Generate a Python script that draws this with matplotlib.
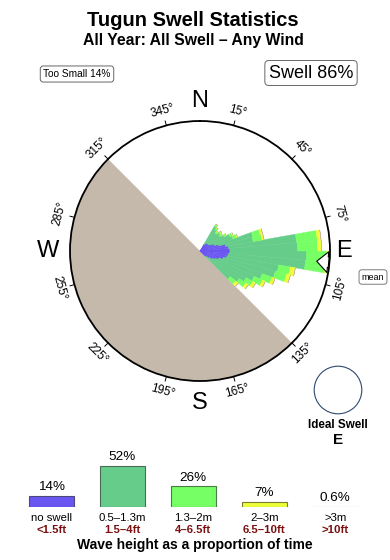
import numpy as np
import matplotlib.pyplot as plt
from matplotlib.patches import Circle

plt.rcParams['font.family'] = ['Liberation Sans', 'DejaVu Sans']

# rose data: 5 degree bins (start direction), radial units where the ring = 10
dirs = np.arange(30, 135, 5)
no_swell = [0.6, 0.7, 0.8, 0.8, 0.8, 0.9, 1.1, 1.2, 1.5, 2.0, 2.2,
            2.3, 2.3, 2.2, 2.1, 1.85, 1.55, 1.3, 1.1, 0.85, 0.6]
small = [1.6, 1.3, 1.0, 1.2, 1.1, 1.25, 1.45, 1.5, 2.7, 2.15, 5.25,
         5.2, 5.9, 5.95, 4.05, 4.15, 3.55, 3.3, 3.0, 2.85, 2.45]
medium = [0.15, 0.15, 0.15, 0.15, 0.15, 0.15, 0.2, 0.3, 0.6, 0.7, 1.6,
          1.55, 1.55, 1.55, 0.9, 0.9, 0.8, 0.7, 0.6, 0.6, 0.55]
large = [0.05, 0.05, 0.05, 0.05, 0.05, 0.05, 0.08, 0.08, 0.2, 0.15, 0.3,
         0.3, 0.3, 0.3, 0.4, 0.3, 0.25, 0.25, 0.25, 0.25, 0.25]
huge = [0, 0, 0, 0, 0, 0, 0, 0, 0, 0, 0,
        0, 0.08, 0.08, 0, 0, 0, 0, 0, 0, 0]
mean_dir = 95

# bottom legend
classes = ['no swell', '0.5–1.3m', '1.3–2m', '2–3m', '>3m']
feet = ['<1.5ft', '1.5–4ft', '4–6.5ft', '6.5–10ft', '>10ft']
pct = [14, 52, 26, 7, 0.6]
pct_labels = ['14%', '52%', '26%', '7%', '0.6%']

colors = ['#6a55f0', '#66cc8a', '#77ff66', '#eeff3a', '#c4a8a4']
edges = ['#4a4a7a', '#4a6a55', '#4a7a45', '#7a7a30', '#b09898']
land = '#c5b9ac'

fig = plt.figure(figsize=(3.9, 5.6), dpi=100)

fig.text(0.495, 1 - 20 / 560, 'Tugun Swell Statistics', ha='center', va='center',
         fontsize=14.5, fontweight='bold')
fig.text(0.497, 1 - 40 / 560, 'All Year: All Swell – Any Wind', ha='center', va='center',
         fontsize=11.3, fontweight='bold')
fig.text(77 / 390, 1 - 74 / 560, 'Too Small 14%', ha='center', va='center', fontsize=7.3,
         bbox=dict(boxstyle='round,pad=0.3', fc='white', ec='#666666', lw=0.7))
fig.text(311 / 390, 1 - 73 / 560, 'Swell 86%', ha='center', va='center', fontsize=13,
         bbox=dict(boxstyle='round,pad=0.22', fc='white', ec='#666666', lw=0.7))
fig.text(373 / 390, 1 - 277 / 560, 'mean', ha='center', va='center', fontsize=6.5,
         bbox=dict(boxstyle='round,pad=0.3', fc='white', ec='#666666', lw=0.6))

# rose
ax = fig.add_axes([70 / 390, 1 - 381 / 560, 260 / 390, 260 / 560], projection='polar')
ax.set_theta_zero_location('N')
ax.set_theta_direction(-1)
ax.set_ylim(0, 10)
ax.set_xticks([])
ax.set_yticks([])
ax.grid(False)
ax.spines['polar'].set_linewidth(1.3)

ax.bar(np.radians(225), 10, width=np.pi, color=land, linewidth=0, zorder=1)

theta = np.radians(dirs + 2.5)
w = np.radians(5)
bottom = np.zeros(len(dirs))
for vals, c in zip([no_swell, small, medium, large, huge], colors):
    vals = np.array(vals)
    ax.bar(theta, vals, width=w, bottom=bottom, color=c, edgecolor=c, linewidth=0.3, zorder=2)
    bottom += vals

ax.annotate('', xy=(np.radians(mean_dir), 8.8), xytext=(np.radians(mean_dir), 10.15),
            arrowprops=dict(arrowstyle='simple,head_length=0.8,head_width=1.5,tail_width=0.75',
                            fc='white', ec='black', lw=0.8), zorder=5,
            annotation_clip=False)

for d in range(15, 360, 30):
    rot = -d if (d < 90 or d > 270) else 180 - d
    ax.plot([np.radians(d)] * 2, [10, 10.35], color='black', lw=0.7, clip_on=False)
    ax.text(np.radians(d), 11.15, f'{d}°', rotation=rot, rotation_mode='anchor',
            ha='center', va='center', fontsize=8.5)

for lab, d, r in [('N', 0, 11.55), ('E', 90, 11.05), ('S', 180, 11.7), ('W', 270, 11.7)]:
    ax.text(np.radians(d), r, lab, ha='center', va='center', fontsize=17)

# ideal swell glyph
iax = fig.add_axes([313 / 390, 1 - 415 / 560, 50 / 390, 50 / 560])
iax.set_xlim(-1.05, 1.05)
iax.set_ylim(-1.05, 1.05)
iax.set_aspect('equal')
iax.axis('off')
iax.add_patch(Circle((0, 0), 1, fc='white', ec='#2e4a6e', lw=0.8))
fig.text(338 / 390, 1 - 425 / 560, 'Ideal Swell', ha='center', va='center',
         fontsize=8.4, fontweight='bold')
fig.text(338 / 390, 1 - 440 / 560, 'E', ha='center', va='center',
         fontsize=11, fontweight='bold')

# wave height bars
lax = fig.add_axes([0, 1 - 507.3 / 560, 1, 87.3 / 560])
lax.set_xlim(-0.721, 4.772)
lax.set_ylim(0, 109.1)
lax.axis('off')
lax.bar(range(5), pct, width=0.634, color=colors, edgecolor=edges, linewidth=0.8)
for i in range(5):
    lax.annotate(pct_labels[i], xy=(i, pct[i]), xytext=(0, 6.3), textcoords='offset points',
                 ha='center', va='center', fontsize=9.7, annotation_clip=False)
    lax.text(i, -13.5, classes[i], ha='center', va='center', fontsize=8.2, clip_on=False)
    lax.text(i, -28.4, feet[i], ha='center', va='center', fontsize=8.2,
             fontweight='bold', color='#7a1010', clip_on=False)
fig.text(195 / 390, 1 - 545 / 560, 'Wave height as a proportion of time',
         ha='center', va='center', fontsize=10, fontweight='bold')

fig.savefig('out.png', dpi=100)
